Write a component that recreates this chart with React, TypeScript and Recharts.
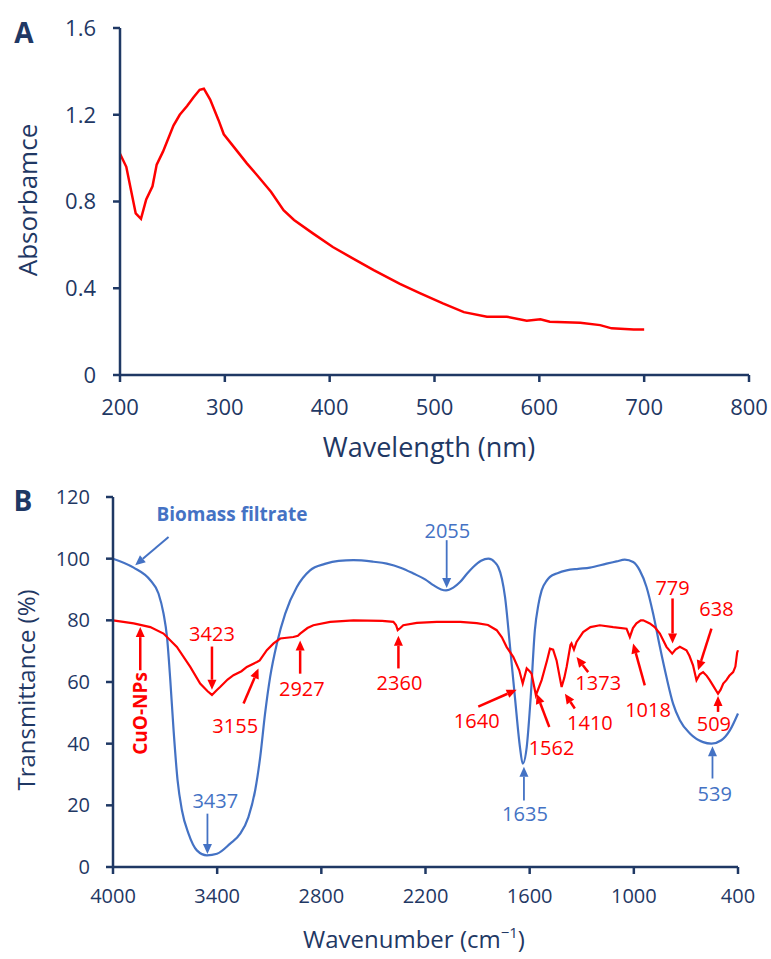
import React from 'react';
import {
  LineChart,
  Line,
  XAxis,
  YAxis,
  ReferenceLine,
  ReferenceDot,
} from 'recharts';

// UV-vis spectrum of the CuO nanoparticles
const uvWavelength = [
  200, 206, 211, 215, 220, 225, 231, 235, 241, 251, 257, 264, 270, 276, 280, 286, 294, 299,
  311, 321, 331, 344, 356, 366, 384, 403, 422, 442, 467, 486, 508, 528, 550, 569, 588, 601,
  610, 639, 658, 669, 690, 700,
];
const uvAbsorbance = [
  1.02, 0.96, 0.84, 0.745, 0.72, 0.81, 0.87, 0.97, 1.03, 1.15, 1.2, 1.24, 1.28, 1.315, 1.32,
  1.27, 1.175, 1.11, 1.037, 0.976, 0.92, 0.845, 0.76, 0.715, 0.653, 0.59, 0.538, 0.484, 0.42,
  0.377, 0.33, 0.29, 0.269, 0.269, 0.25, 0.257, 0.246, 0.241, 0.23, 0.215, 0.21, 0.21,
];
const uvXTicks = [200, 300, 400, 500, 600, 700, 800];
const uvYTicks = [0, 0.4, 0.8, 1.2, 1.6];

// FTIR: biomass filtrate
const bioWn = [
  4000, 3881, 3785, 3738, 3709, 3689, 3670, 3651, 3628, 3603, 3565, 3517, 3459, 3401, 3325,
  3267, 3220, 3181, 3152, 3124, 3095, 3056, 3008, 2941, 2865, 2780, 2700, 2615, 2500, 2423,
  2340, 2270, 2200, 2155, 2110, 2082, 2040, 2001, 1960, 1925, 1880, 1838, 1800, 1781, 1760,
  1742, 1713, 1685, 1656, 1640, 1617, 1594, 1570, 1550, 1531, 1500, 1483, 1440, 1387, 1320,
  1253, 1157, 1100, 1052, 1004, 966, 927, 889, 850, 812, 774, 735, 677, 601, 553, 496, 447, 400,
];
const bioT = [
  100, 97.1, 93.0, 88.7, 82.2, 74.6, 60.6, 44.3, 28.1, 18.4, 10.8, 5.4, 3.8, 4.3, 7.6,
  10.8, 16.2, 24.9, 35.7, 49.8, 61.6, 72.5, 82.2, 90.8, 96.2, 98.3, 99.3, 99.5, 99.0, 98.4,
  97.0, 95.2, 93.2, 91.4, 90.0, 89.7, 90.6, 92.4, 95.2, 97.3, 99.3, 100.0, 98.8, 97.3, 93.5,
  87.6, 71.4, 55.1, 38.9, 33.5, 38.9, 55.1, 76.8, 85.0, 89.7, 93.0, 94.1, 95.3, 96.2, 96.7,
  97.1, 98.4, 99.1, 99.7, 98.9, 96.2, 90.8, 82.2, 71.4, 61.6, 53.0, 47.6, 43.3, 40.5, 40.0, 41.1, 44.3, 49.8,
];

// FTIR: CuO-NPs
const cuoWn = [
  4000, 3881, 3785, 3709, 3632, 3555, 3498, 3455, 3430, 3400, 3383, 3340, 3306, 3260, 3229,
  3171, 3155, 3114, 3075, 3037, 2961, 2935, 2922, 2880, 2846, 2749, 2615, 2450, 2385, 2370,
  2360, 2345, 2328, 2250, 2135, 2000, 1905, 1840, 1790, 1760, 1733, 1694, 1660, 1640, 1617,
  1600, 1589, 1564, 1531, 1500, 1483, 1465, 1445, 1425, 1416, 1400, 1387, 1365, 1359, 1345,
  1330, 1292, 1250, 1196, 1119, 1042, 1023, 1005, 985, 960, 946, 908, 880, 850, 812, 779,
  760, 735, 697, 680, 659, 639, 620, 601, 580, 563, 540, 515, 500, 485, 467, 450, 428, 415, 405, 400,
];
const cuoT = [
  80.0, 79.0, 77.8, 75.7, 71.4, 64.9, 59.5, 57.0, 55.8, 57.5, 58.4, 60.8, 62.2, 63.5, 64.9,
  66.5, 67.0, 70.3, 72.5, 74.1, 74.6, 75.0, 75.7, 77.5, 78.4, 79.5, 80.0, 79.8, 79.5, 78.5,
  76.8, 77.5, 78.4, 79.2, 79.5, 79.5, 79.1, 78.5, 76.8, 74.5, 71.4, 68.1, 63.8, 59.5, 64.4,
  63.5, 62.7, 55.7, 60.6, 67.0, 70.8, 70.5, 67.0, 61.0, 58.4, 61.5, 64.9, 72.0, 72.5, 70.5,
  73.0, 76.2, 77.8, 78.4, 77.8, 77.3, 74.6, 77.5, 79.0, 80.0, 80.0, 79.0, 77.8, 75.7, 71.4, 69.2,
  70.5, 71.4, 70.3, 68.5, 65.4, 60.6, 62.5, 63.2, 62.0, 60.6, 58.5, 56.2, 57.5, 59.5, 60.6, 62.0, 63.2, 65.0, 69.5, 70.3,
];
const irXTicks = [4000, 3400, 2800, 2200, 1600, 1000, 400];
const irYTicks = [0, 20, 40, 60, 80, 100, 120];

// peak labels: text position, then arrow tail -> tip (wavenumber, %T)
const cuoPeaks = [
  { label: '3423', tx: 3430, ty: 75.7, x1: 3430, y1: 71.5, x2: 3430, y2: 57.5 },
  { label: '3155', tx: 3296, ty: 46, x1: 3248, y1: 53, x2: 3162, y2: 64.4 },
  { label: '2927', tx: 2912, ty: 57.9, x1: 2922, y1: 62.7, x2: 2922, y2: 73.5 },
  { label: '2360', tx: 2350, ty: 60, x1: 2356, y1: 64.4, x2: 2356, y2: 75 },
  { label: '1640', tx: 1905, ty: 47.6, x1: 1896, y1: 52, x2: 1675, y2: 57.5 },
  { label: '1562', tx: 1474, ty: 38.9, x1: 1487, y1: 45.4, x2: 1560, y2: 56.2 },
  { label: '1410', tx: 1253, ty: 47, x1: 1340, y1: 51.4, x2: 1397, y2: 56.2 },
  { label: '1373', tx: 1205, ty: 60, x1: 1263, y1: 63.2, x2: 1330, y2: 68.1 },
  { label: '1018', tx: 918, ty: 51, x1: 937, y1: 58.9, x2: 1004, y2: 72.5 },
  { label: '779', tx: 777, ty: 90.6, x1: 777, y1: 87.1, x2: 777, y2: 72.5 },
  { label: '638', tx: 524, ty: 83.8, x1: 553, y1: 77.3, x2: 630, y2: 63.8 },
  { label: '509', tx: 539, ty: 46.5, x1: 515, y1: 50.3, x2: 515, y2: 55.5 },
];
const bioPeaks = [
  { label: '3437', tx: 3411, ty: 21.6, x1: 3456, y1: 17.3, x2: 3456, y2: 4.2 },
  { label: '2055', tx: 2074, ty: 109, x1: 2078, y1: 106, x2: 2078, y2: 90.5 },
  { label: '1635', tx: 1627, ty: 17.3, x1: 1633, y1: 21.6, x2: 1633, y2: 32.5 },
  { label: '539', tx: 534, ty: 23.8, x1: 547, y1: 28.7, x2: 547, y2: 39.2 },
];

const NAVY = '#1F3864';
const RED = '#FF0000';
const BLUE = '#4472C4';
const FONT = '"Open Sans", sans-serif';

const uvData = uvWavelength.map((w, i) => ({ w, a: uvAbsorbance[i] }));
const bioData = bioWn.map((wn, i) => ({ wn, t: bioT[i] }));
const cuoData = cuoWn.map((wn, i) => ({ wn, t: cuoT[i] }));

// line with a filled head at (x2, y2)
const arrowShape = (color: string, width: number, head = 10) => (props: any) => {
  const { x1, y1, x2, y2 } = props;
  if ([x1, y1, x2, y2].some((v) => typeof v !== 'number' || isNaN(v))) return <g />;
  const dx = x2 - x1;
  const dy = y2 - y1;
  const len = Math.sqrt(dx * dx + dy * dy) || 1;
  const ux = dx / len;
  const uy = dy / len;
  const bx = x2 - ux * head;
  const by = y2 - uy * head;
  const hw = head * 0.45;
  const pts = `${x2},${y2} ${bx - uy * hw},${by + ux * hw} ${bx + uy * hw},${by - ux * hw}`;
  return (
    <g>
      <line x1={x1} y1={y1} x2={bx} y2={by} stroke={color} strokeWidth={width} />
      <polygon points={pts} fill={color} />
    </g>
  );
};

const textShape =
  (text: string, color: string, size: number, bold = false, angle = 0) =>
  (props: any) => {
    const { cx, cy } = props;
    return (
      <text
        x={cx}
        y={cy}
        fill={color}
        fontSize={size}
        fontFamily={FONT}
        fontWeight={bold ? 700 : 400}
        textAnchor="middle"
        dominantBaseline="central"
        transform={angle ? `rotate(${angle}, ${cx}, ${cy})` : undefined}
      >
        {text}
      </text>
    );
  };

const axisProps = {
  stroke: NAVY,
  strokeWidth: 2.5,
  tickSize: 7,
};

const renderPeaks = (peaks: typeof cuoPeaks, color: string, lw: number) =>
  peaks.flatMap((p) => [
    <ReferenceLine
      key={`l-${p.label}`}
      segment={[
        { x: p.x1, y: p.y1 },
        { x: p.x2, y: p.y2 },
      ]}
      ifOverflow="visible"
      shape={arrowShape(color, lw)}
    />,
    <ReferenceDot
      key={`t-${p.label}`}
      x={p.tx}
      y={p.ty}
      r={0}
      ifOverflow="visible"
      shape={textShape(p.label, color, 20)}
    />,
  ]);

export default function App() {
  return (
    <div style={{ position: 'absolute', left: 0, top: 0, width: 771, height: 959, background: '#fff' }}>
      <div style={{ position: 'absolute', left: 0, top: 0 }}>
        <LineChart width={771} height={440} data={uvData} margin={{ top: 28, right: 22, left: 0, bottom: 0 }}>
          <XAxis
            dataKey="w"
            type="number"
            domain={[200, 800]}
            ticks={uvXTicks}
            height={65}
            tickMargin={17}
            {...axisProps}
            tick={{ fill: NAVY, fontSize: 22, fontFamily: FONT }}
          />
          <YAxis
            type="number"
            domain={[0, 1.6]}
            ticks={uvYTicks}
            width={120}
            tickMargin={17}
            {...axisProps}
            tick={{ fill: NAVY, fontSize: 22, fontFamily: FONT }}
          />
          <Line
            dataKey="a"
            type="linear"
            stroke={RED}
            strokeWidth={2.5}
            dot={false}
            isAnimationActive={false}
          />
        </LineChart>
      </div>

      <div style={{ position: 'absolute', left: 0, top: 470 }}>
        <LineChart width={771} height={489} margin={{ top: 27, right: 33, left: 0, bottom: 0 }}>
          <XAxis
            dataKey="wn"
            type="number"
            domain={[400, 4000]}
            reversed
            allowDuplicatedCategory={false}
            ticks={irXTicks}
            height={92}
            tickMargin={15}
            {...axisProps}
            tick={{ fill: NAVY, fontSize: 20, fontFamily: FONT }}
          />
          <YAxis
            type="number"
            domain={[0, 120]}
            ticks={irYTicks}
            width={113}
            tickMargin={16}
            {...axisProps}
            tick={{ fill: NAVY, fontSize: 20, fontFamily: FONT }}
          />
          <Line
            data={bioData}
            dataKey="t"
            type="monotone"
            stroke={BLUE}
            strokeWidth={2.2}
            dot={false}
            isAnimationActive={false}
          />
          <Line
            data={cuoData}
            dataKey="t"
            type="linear"
            stroke={RED}
            strokeWidth={2.2}
            dot={false}
            isAnimationActive={false}
          />
          {renderPeaks(cuoPeaks, RED, 2.5)}
          {renderPeaks(bioPeaks, BLUE, 1.8)}
          <ReferenceLine
            segment={[
              { x: 3680, y: 107 },
              { x: 3872, y: 97.9 },
            ]}
            ifOverflow="visible"
            shape={arrowShape(BLUE, 2)}
          />
          <ReferenceDot
            x={3315}
            y={114.6}
            r={0}
            ifOverflow="visible"
            shape={textShape('Biomass filtrate', BLUE, 19, true)}
          />
          <ReferenceLine
            segment={[
              { x: 3843, y: 63.8 },
              { x: 3843, y: 77.8 },
            ]}
            ifOverflow="visible"
            shape={arrowShape(RED, 2.5)}
          />
          <ReferenceDot
            x={3843}
            y={49.8}
            r={0}
            ifOverflow="visible"
            shape={textShape('CuO-NPs', RED, 19, true, -90)}
          />
        </LineChart>
      </div>

      {/* panel letters and axis titles */}
      <svg
        width={771}
        height={959}
        style={{ position: 'absolute', left: 0, top: 0, pointerEvents: 'none' }}
        fontFamily={FONT}
      >
        <text x={24} y={32} fill={NAVY} fontSize={28} fontWeight={700} textAnchor="middle" dominantBaseline="central">
          A
        </text>
        <text
          x={27}
          y={200}
          fill={NAVY}
          fontSize={26}
          textAnchor="middle"
          dominantBaseline="central"
          transform="rotate(-90, 27, 200)"
        >
          Absorbamce
        </text>
        <text x={429} y={446} fill={NAVY} fontSize={27} textAnchor="middle" dominantBaseline="central">
          Wavelength (nm)
        </text>
        <text x={23} y={500} fill={NAVY} fontSize={28} fontWeight={700} textAnchor="middle" dominantBaseline="central">
          B
        </text>
        <text
          x={25}
          y={690}
          fill={NAVY}
          fontSize={24}
          textAnchor="middle"
          dominantBaseline="central"
          transform="rotate(-90, 25, 690)"
        >
          Transmittance (%)
        </text>
        <text x={414} y={948} fill={NAVY} fontSize={24} textAnchor="middle">
          Wavenumber (cm<tspan fontSize={15} dy={-10}>−1</tspan><tspan dy={10}>)</tspan>
        </text>
      </svg>
    </div>
  );
}
